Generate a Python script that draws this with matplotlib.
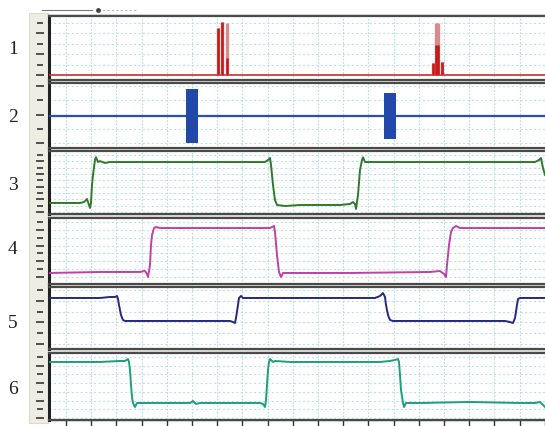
import numpy as np
import matplotlib
matplotlib.use("Agg")
import matplotlib.pyplot as plt
from matplotlib.patches import Rectangle
from matplotlib.lines import Line2D

W, H = 545, 426
fig = plt.figure(figsize=(W / 100, H / 100), dpi=100)
fig.patch.set_facecolor("white")

# ---------------- data (time in px-like units, level in % of panel) -------------
channel_labels = ["1", "2", "3", "4", "5", "6"]

# channel 1: red spikes
ch1_baseline = 7.8
ch1_spike_t = [218, 222, 227, 433, 436, 438, 442]
ch1_spike_light = [81, 91, 89, 27, 89, 89, 28]
ch1_spike_dark = [81, 91, 34, 27, 55, 55, 28]

# channel 2: blue baseline with bursts
ch2_baseline = 50
ch2_burst_start = [186, 384]
ch2_burst_end = [198, 396]
ch2_burst_hi = [91, 85]
ch2_burst_lo = [8, 14]

# channel 3: green
ch3_t = [50, 80, 84, 87, 89, 90, 91, 92, 93, 95, 96, 98, 100, 105, 110, 120, 150, 200, 240, 265, 268, 270,
         271, 273, 275, 277, 285, 300, 340, 350, 353, 355, 356, 358, 360, 362, 363, 365, 370, 400, 450, 500,
         535, 539, 541, 543, 545]
ch3_v = [17.5, 17.5, 19, 23.8, 14.3, 9.5, 17.5, 46, 62, 86, 90, 82.5, 84, 81, 82.5, 82.5, 82.5, 82.5, 82.5,
         82.5, 85.7, 88.9, 77.8, 46, 22, 14.3, 12.7, 14.3, 14.3, 15.9, 19, 15.9, 7.9, 30, 69.8, 85.7, 90,
         82.5, 82.5, 82.5, 82.5, 82.5, 82.5, 85.7, 88.9, 73, 62]

# channel 4: magenta
ch4_t = [50, 100, 120, 140, 145, 147, 148, 150, 151, 152, 154, 156, 160, 170, 220, 270, 274, 275, 277, 279,
         281, 283, 290, 350, 430, 440, 444, 446, 447, 449, 451, 453, 456, 460, 500, 545]
ch4_v = [16.7, 18.2, 18.2, 18.2, 19.7, 15.2, 10.6, 28.8, 59, 74, 84.8, 86.4, 84.8, 84.8, 84.8, 84.8, 87.9,
         78.8, 43.9, 18.2, 10.6, 16.7, 16.7, 16.7, 18.2, 19.7, 15.2, 10.6, 28.8, 59, 78.8, 84.8, 87.9, 84.8,
         84.8, 84.8]

# channel 5: navy
ch5_t = [50, 100, 110, 115, 117, 118, 119, 121, 123, 125, 130, 200, 230, 233, 235, 236, 238, 239, 241, 243,
         250, 300, 360, 375, 380, 383, 385, 386, 388, 390, 393, 400, 500, 505, 510, 513, 515, 517, 518, 520,
         545]
ch5_v = [82.3, 82.3, 83.9, 83.9, 85.5, 80.6, 71, 54.8, 46.8, 45.2, 45.2, 45.2, 45.2, 43.5, 41.9, 50, 71,
         82.3, 85.5, 82.3, 82.3, 82.3, 82.3, 82.3, 85.5, 90.3, 83.9, 71, 54.8, 46.8, 45.2, 45.2, 45.2, 45.2,
         43.5, 41.9, 50, 71, 80.6, 82.3, 82.3]

# channel 6: teal
ch6_t = [50, 100, 120, 125, 128, 129, 130, 131, 132, 133, 135, 137, 150, 190, 193, 196, 200, 260, 263, 265,
         266, 267, 268, 269, 270, 273, 275, 290, 380, 390, 395, 398, 399, 400, 401, 403, 404, 406, 420, 470,
         520, 535, 540, 543, 545]
ch6_v = [86.6, 86.6, 88.1, 88.1, 91, 86.6, 74.6, 52.2, 34.3, 25.4, 19.4, 25.4, 25.4, 25.4, 28.4, 23.9, 25.4,
         25.4, 23.9, 19.4, 29.9, 52.2, 74.6, 86.6, 91, 86.6, 88.1, 86.6, 86.6, 88.1, 89.6, 91, 86.6, 67.2,
         44.8, 25.4, 19.4, 25.4, 25.4, 26.9, 25.4, 25.4, 26.9, 22.4, 19.4]

# ---------------- layout -------------
panels_px = [(16, 80), (83, 148), (151, 214), (218, 284), (287, 349), (353, 420)]
tick_px = [(23, 75, 6), (86, 143, 5), (155, 212, 10), (222, 277, 8), (290, 344, 6), (357, 418, 8)]
label_y = [49, 117, 186, 249, 323, 390]
x_left, x_right = 49, 546
grid_x0, grid_dx = 66, 25.2

def to_t(px):
    return (np.asarray(px, dtype=float) - grid_x0) / grid_dx

xlim = (to_t(x_left), to_t(x_right))

# left beige strip and gap background
fig.add_artist(Rectangle((29 / W, 1 - 423 / H), 19 / W, 410 / H, transform=fig.transFigure,
                         facecolor="#eeede4", edgecolor="#dcdace", lw=0.8, zorder=0))
fig.add_artist(Rectangle((x_left / W, 1 - 422 / H), (W - x_left) / W, 408 / H, transform=fig.transFigure,
                         facecolor="#e6e5dc", edgecolor="none", zorder=0))
# top toolbar hints
fig.add_artist(Line2D([42 / W, 92 / W], [1 - 10 / H, 1 - 10 / H], transform=fig.transFigure,
                      color="#7a7a7a", lw=0.8))
fig.add_artist(Line2D([98 / W, 138 / W], [1 - 10 / H, 1 - 10 / H], transform=fig.transFigure,
                      color="#b8b8b8", lw=0.8, ls=(0, (2, 2))))
fig.add_artist(Line2D([98 / W], [1 - 10 / H], transform=fig.transFigure, marker="o", ms=2.5,
                      color="#444444", lw=0))

tick_xfrac = -(9.0 / (x_right - x_left))
axes = []
for i, (top, bot) in enumerate(panels_px):
    ax = fig.add_axes([x_left / W, 1 - bot / H, (x_right - x_left) / W, (bot - top) / H])
    ax.set_facecolor("white")
    ax.set_xlim(*xlim)
    ax.set_ylim(0, 100)
    # grid
    for k in range(0, 20):
        ax.axvline(k, color="#b3dee6", lw=0.8, ls=(0, (1.5, 1.5)), zorder=0)
    f, l, n = tick_px[i]
    ticks = [(bot - y) / (bot - top) * 100 for y in np.linspace(f, l, n)]
    for j, tv in enumerate(ticks[:-1] if i == 0 else ticks):
        ax.axhline(tv, color="#bfe2ea", lw=0.8, ls=(0, (2, 2)), zorder=0)
    # strip ticks
    for j, tv in enumerate(ticks):
        long = (j % 2 == (n - 1) % 2)
        ax.plot([tick_xfrac], [tv], transform=ax.get_yaxis_transform(), marker="_",
                ms=6 if long else 4, mew=1.2, color="#333333", clip_on=False)
    ax.set_xticks([])
    ax.set_yticks([])
    for s in ["top", "bottom"]:
        ax.spines[s].set_color("#4a4a4a")
        ax.spines[s].set_linewidth(1.6)
    ax.spines["left"].set_color("#222222")
    ax.spines["left"].set_linewidth(2.2)
    ax.spines["right"].set_visible(False)
    fig.text(13 / W, 1 - label_y[i] / H, channel_labels[i], ha="center", va="center",
             fontsize=14, family="Liberation Serif", color="#222222")
    axes.append(ax)

# channel 1
ax = axes[0]
ax.axhline(ch1_baseline, color="#c43030", lw=1.2, zorder=3)
ax.vlines(to_t(ch1_spike_t), ch1_baseline, ch1_spike_light, color="#d98a8a", lw=2.4, zorder=3)
ax.vlines(to_t(ch1_spike_t), ch1_baseline, ch1_spike_dark, color="#c81818", lw=1.8, zorder=4)

# channel 2
ax = axes[1]
ax.axhline(ch2_baseline, color="#2a4fb0", lw=1.6, zorder=3)
for s, e, hi, lo in zip(ch2_burst_start, ch2_burst_end, ch2_burst_hi, ch2_burst_lo):
    ax.fill_between(to_t([s, e]), [lo, lo], [hi, hi], color="#2248a8", lw=0, zorder=4)

# channels 3-6
for ax, t, v, c in [(axes[2], ch3_t, ch3_v, "#2f7a2a"),
                    (axes[3], ch4_t, ch4_v, "#c040a6"),
                    (axes[4], ch5_t, ch5_v, "#28287e"),
                    (axes[5], ch6_t, ch6_v, "#1f9e7a")]:
    ax.plot(to_t(t), v, color=c, lw=1.4, zorder=3)

# bottom ticks
ax = axes[5]
ax.set_xticks(np.arange(0, 20))
ax.tick_params(axis="x", direction="out", length=4, width=1, color="#333333", labelbottom=False)

fig.savefig("out.png", dpi=100)
